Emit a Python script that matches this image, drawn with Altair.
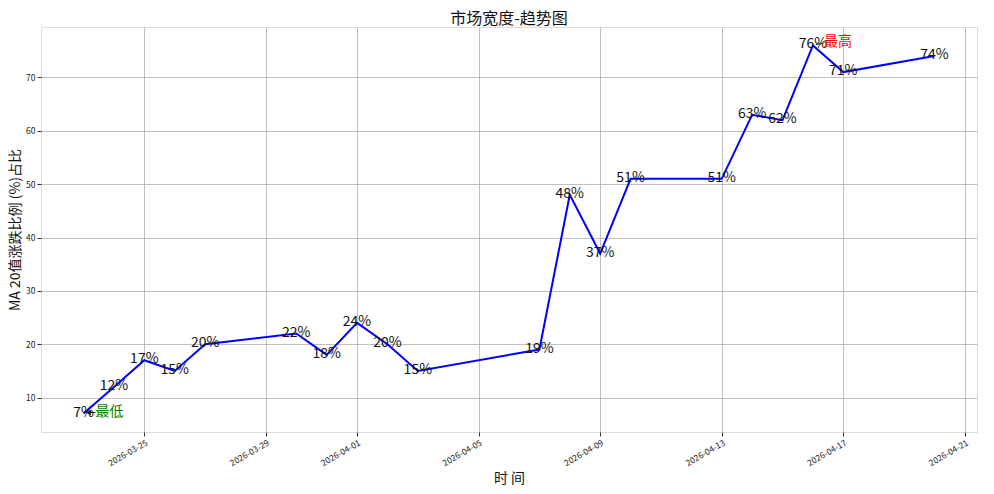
import altair as alt
import pandas as pd

dates = ["2026-03-23", "2026-03-24", "2026-03-25", "2026-03-26", "2026-03-27",
         "2026-03-30", "2026-03-31", "2026-04-01", "2026-04-02", "2026-04-03",
         "2026-04-07", "2026-04-08", "2026-04-09", "2026-04-10", "2026-04-13",
         "2026-04-14", "2026-04-15", "2026-04-16", "2026-04-17", "2026-04-20"]
values = [7, 12, 17, 15, 20, 22, 18, 24, 20, 15, 19, 48, 37, 51, 51, 63, 62, 76, 71, 74]
labels = [f"{v}%" for v in values]

tick_days = [(3, 25), (3, 29), (4, 1), (4, 5), (4, 9), (4, 13), (4, 17), (4, 21)]

df = pd.DataFrame({"date": dates, "value": values, "label": labels})
lo = df.loc[df["value"].idxmin()]
hi = df.loc[df["value"].idxmax()]
df_lo = pd.DataFrame({"date": [lo["date"]], "value": [lo["value"]], "t": ["最低"]})
df_hi = pd.DataFrame({"date": [hi["date"]], "value": [hi["value"]], "t": ["最高"]})

FONT = "Noto Sans CJK SC"

xscale = alt.Scale(
    type="utc",
    domain=[alt.DateTime(year=2026, month=3, date=21, hours=14, minutes=24, utc=True),
            alt.DateTime(year=2026, month=4, date=21, hours=9, minutes=36, utc=True)],
)
yscale = alt.Scale(domain=[3.55, 79.45], nice=False, zero=False)

x = alt.X(
    "date:T",
    scale=xscale,
    title="时  间",
    axis=alt.Axis(
        values=[alt.DateTime(year=2026, month=m, date=d, utc=True) for m, d in tick_days],
        labelExpr="utcFormat(datum.value, '%Y-%m-%d')",
        labelAngle=-30,
        labelAlign="right",
        labelBaseline="top",
        labelFontSize=8.5,
        labelColor="#222",
        labelPadding=2,
        labelFlush=False,
        labelOverlap=False,
        tickSize=4,
        tickColor="#333",
        titleFontSize=14,
        titleFontWeight="normal",
        titleColor="#111",
        titlePadding=4,
        grid=True,
        gridColor="#b0b0b0",
        gridWidth=0.8,
        domain=False,
    ),
)
y = alt.Y(
    "value:Q",
    scale=yscale,
    title="MA 20值涨跌比例 (%)占比",
    axis=alt.Axis(
        values=[10, 20, 30, 40, 50, 60, 70],
        labelFontSize=8.5,
        labelColor="#222",
        labelPadding=2,
        tickSize=4,
        tickColor="#333",
        titleFontSize=14,
        titleFontWeight="normal",
        titleColor="#111",
        titlePadding=3,
        grid=True,
        gridColor="#b0b0b0",
        gridWidth=0.8,
        domain=False,
    ),
)

base = alt.Chart(df)
line = base.mark_line(color="#0000ff", strokeWidth=2).encode(x=x, y=y)
text = base.mark_text(fontSize=14, font=FONT, color="#111", baseline="alphabetic", dy=3).encode(
    x="date:T", y="value:Q", text="label:N"
)

lo_text = alt.Chart(df_lo).mark_text(fontSize=14, font=FONT, color="green", align="left",
                                     baseline="middle", dx=12, dy=-2).encode(
    x="date:T", y="value:Q", text="t:N")
lo_arrow = alt.Chart(df_lo).mark_rule(color="#111", strokeWidth=1, xOffset=3, x2Offset=12, yOffset=-1, y2Offset=-1).encode(
    x="date:T", x2="date:T", y="value:Q", y2="value:Q")
lo_head = alt.Chart(df_lo).mark_point(shape="triangle-left", filled=True, color="#111", size=30,
                                      xOffset=5, yOffset=-1, opacity=1).encode(
    x="date:T", y="value:Q")

hi_text = alt.Chart(df_hi).mark_text(fontSize=14, font=FONT, color="red", align="left",
                                     baseline="middle", dx=11, dy=-3).encode(
    x="date:T", y="value:Q", text="t:N")
hi_arrow = alt.Chart(df_hi).mark_rule(color="#111", strokeWidth=1, xOffset=3, x2Offset=10, yOffset=-1, y2Offset=-2).encode(
    x="date:T", x2="date:T", y="value:Q", y2="value:Q")

chart = alt.layer(line, text, lo_arrow, lo_head, lo_text, hi_arrow, hi_text).properties(
    width=936,
    height=405,
    padding={"left": 33, "top": 19, "right": 9, "bottom": 54},
    autosize=alt.AutoSizeParams(type="none"),
    title=alt.TitleParams("市场宽度-趋势图", fontSize=16, font=FONT, fontWeight="normal",
                          color="#111", offset=0),
).configure_view(stroke="#444", strokeWidth=1).configure(font=FONT)

chart.save("out.html", embed_options={"renderer": "svg", "actions": False})
